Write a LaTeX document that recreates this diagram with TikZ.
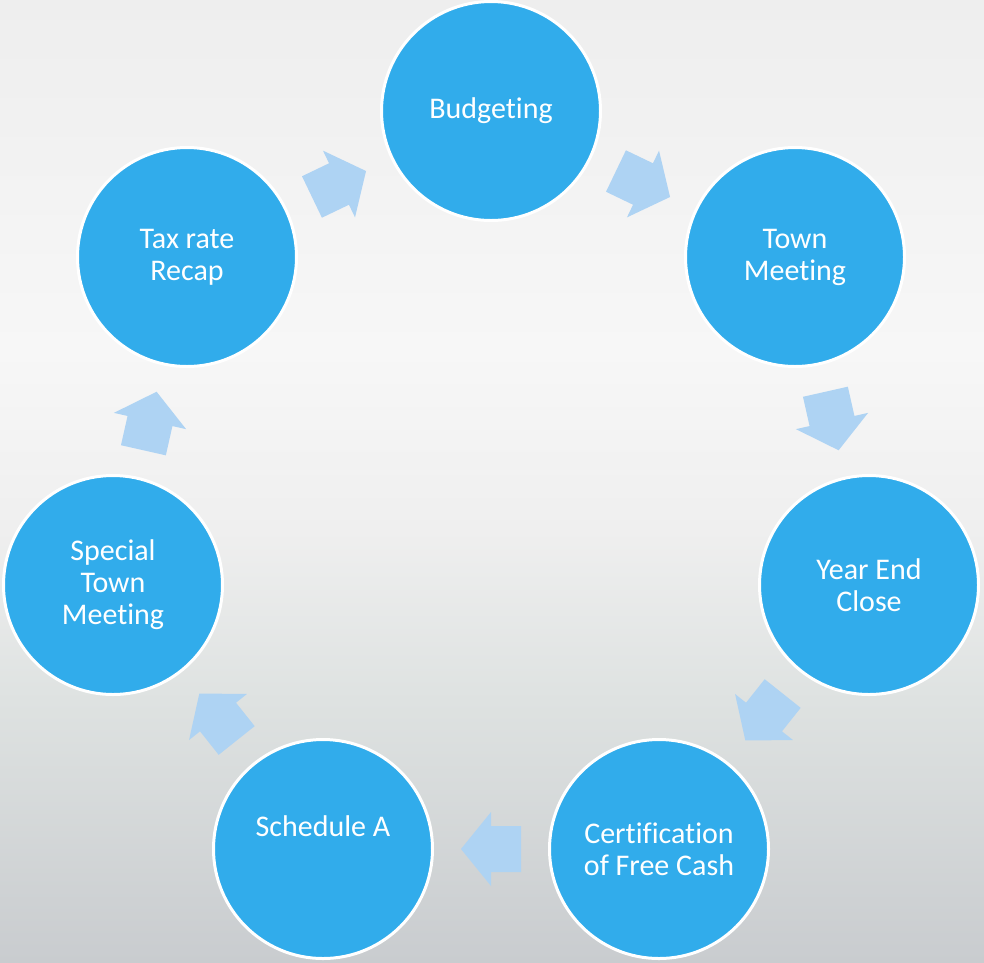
\documentclass[tikz,border=0pt]{standalone}
\usepackage{fontspec}
\setmainfont{Carlito}[Ligatures=NoCommon]
\usetikzlibrary{calc}
\definecolor{stepblue}{HTML}{31ACEB}
\definecolor{arrowblue}{HTML}{AED3F3}
\definecolor{bg1}{HTML}{EEEEEE}
\definecolor{bg2}{HTML}{F7F7F7}
\definecolor{bg3}{HTML}{EFEFEF}
\definecolor{bg4}{HTML}{DEE2E1}
\definecolor{bg5}{HTML}{C9CCCF}
\begin{document}
\begin{tikzpicture}
  [x=1pt,y=-1pt,every node/.style={circle,fill=stepblue,draw=white,line width=3pt,
   minimum size=219pt,inner sep=0pt,text=white,align=center,
   font=\fontsize{30}{32}\selectfont}]

  % backdrop
  \shade[top color=bg1,bottom color=bg2] (0,0) rectangle (984,351);
  \shade[top color=bg2,bottom color=bg3] (0,350) rectangle (984,531);
  \shade[top color=bg3,bottom color=bg4] (0,530) rectangle (984,701);
  \shade[top color=bg4,bottom color=bg5] (0,700) rectangle (984,962);

  \node (c1) at (491,111) {Budgeting};
  \node (c2) at (795,257) {Town\\Meeting};
  \node (c3) at (869,585) {Year End\\Close};
  \node (c4) at (659,849) {Certification\\of Free Cash};
  \node (c5) at (323,849) {Schedule A\\[14pt]\mbox{}};
  \node (c6) at (113,585) {Special\\Town\\Meeting};
  \node (c7) at (187,257) {Tax rate\\Recap};

  \foreach \a/\b in {c1/c2,c2/c3,c3/c4,c4/c5,c5/c6,c6/c7,c7/c1}{
    \coordinate (m) at ($(\a)!0.5!(\b)$);
    \coordinate (t) at ($(m)!-30pt!(\b)$);
    \fill[arrowblue] ($(m)!30pt!(\b)$) -- ($(m)!37pt!90:(\b)$) -- ($(m)!23pt!90:(\b)$)
      -- ($(t)!23pt!90:(\b)$) -- ($(t)!23pt!-90:(\b)$) -- ($(m)!23pt!-90:(\b)$)
      -- ($(m)!37pt!-90:(\b)$) -- cycle;
  }

\end{tikzpicture}
\end{document}
